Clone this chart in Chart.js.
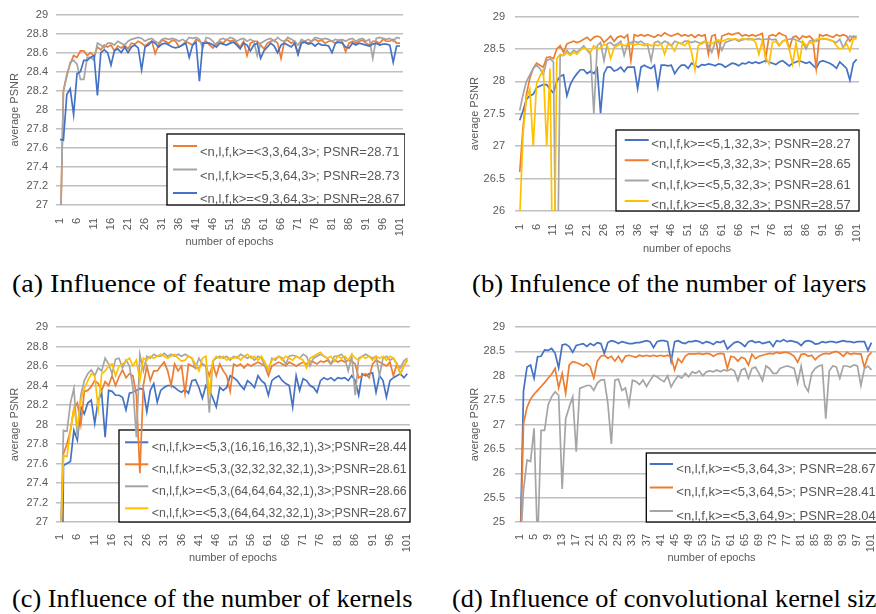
<!DOCTYPE html>
<html>
<head>
<meta charset="utf-8">
<script src="https://cdn.jsdelivr.net/npm/chart.js@4.4.1/dist/chart.umd.min.js"></script>
<style>
  html, body { margin: 0; padding: 0; background: #fff; overflow: hidden; }
  body { width: 876px; height: 614px; position: relative; }
  canvas { position: absolute; }
  .cap { position: absolute; font-family: "Liberation Serif", "DejaVu Serif", serif; font-size: 25px; color: #000; white-space: nowrap; transform-origin: left center; }
</style>
</head>
<body>
<canvas id="cA" width="438" height="260" style="left:0;top:0"></canvas>
<canvas id="cB" width="438" height="260" style="left:438px;top:0"></canvas>
<canvas id="cC" width="438" height="260" style="left:0;top:310px"></canvas>
<canvas id="cD" width="480" height="260" style="left:438px;top:310px"></canvas>
<div class="cap" id="capA" data-w="383" style="left:12px;top:270px">(a) Influence of feature map depth</div>
<div class="cap" id="capB" data-w="394" style="left:472px;top:270px">(b) Infulence of the number of layers</div>
<div class="cap" id="capC" data-w="400" style="left:12px;top:585px">(c) Influence of the number of kernels</div>
<div class="cap" id="capD" style="left:452px;top:585px">(d) Influence of convolutional kernel size</div>
<script>
// epochs on the x axis
const epochs = [
  1, 2, 3, 4, 5, 6, 7, 8, 9, 10, 11, 12, 13, 14, 15, 16, 17, 18, 19, 20,
  21, 22, 23, 24, 25, 26, 27, 28, 29, 30, 31, 32, 33, 34, 35, 36, 37, 38, 39, 40,
  41, 42, 43, 44, 45, 46, 47, 48, 49, 50, 51, 52, 53, 54, 55, 56, 57, 58, 59, 60,
  61, 62, 63, 64, 65, 66, 67, 68, 69, 70, 71, 72, 73, 74, 75, 76, 77, 78, 79, 80,
  81, 82, 83, 84, 85, 86, 87, 88, 89, 90, 91, 92, 93, 94, 95, 96, 97, 98, 99, 100, 101
];
const ticksBy5 = [1, 6, 11, 16, 21, 26, 31, 36, 41, 46, 51, 56, 61, 66, 71, 76, 81, 86, 91, 96, 101];
const ticksBy4 = [1, 5, 9, 13, 17, 21, 25, 29, 33, 37, 41, 45, 49, 53, 57, 61, 65, 69, 73, 77, 81, 85, 89, 93, 97, 101];

// (a) feature map depth
const depthLabels = [
  "<n,l,f,k>=<3,3,64,3>; PSNR=28.71",
  "<n,l,f,k>=<5,3,64,3>; PSNR=28.73",
  "<n,l,f,k>=<9,3,64,3>; PSNR=28.67"
];
const depthN3 = [
  26.5, 28.20, 28.37, 28.48, 28.57, 28.55, 28.62, 28.62, 28.57, 28.60,
  28.56, 28.66, 28.63, 28.68, 28.66, 28.68, 28.62, 28.67, 28.65, 28.68,
  28.64, 28.70, 28.69, 28.72, 28.70, 28.67, 28.70, 28.72, 28.59, 28.68,
  28.73, 28.72, 28.70, 28.73, 28.72, 28.66, 28.68, 28.72, 28.70, 28.68,
  28.74, 28.72, 28.70, 28.72, 28.68, 28.65, 28.70, 28.72, 28.70, 28.74,
  28.72, 28.73, 28.70, 28.66, 28.72, 28.57, 28.70, 28.72, 28.72, 28.68,
  28.64, 28.70, 28.72, 28.73, 28.70, 28.54, 28.72, 28.73, 28.70, 28.72,
  28.59, 28.72, 28.72, 28.70, 28.72, 28.74, 28.72, 28.73, 28.70, 28.72,
  28.72, 28.70, 28.73, 28.72, 28.61, 28.70, 28.72, 28.70, 28.72, 28.73,
  28.70, 28.68, 28.72, 28.72, 28.70, 28.74, 28.72, 28.72, 28.74, 28.70, 28.70
];
const depthN5 = [
  26.5, 28.20, 28.35, 28.50, 28.52, 28.48, 28.32, 28.32, 28.55, 28.55,
  28.52, 28.70, 28.68, 28.65, 28.70, 28.70, 28.68, 28.72, 28.70, 28.68,
  28.72, 28.74, 28.75, 28.76, 28.75, 28.72, 28.74, 28.75, 28.72, 28.70,
  28.74, 28.75, 28.74, 28.75, 28.74, 28.72, 28.74, 28.72, 28.76, 28.75,
  28.76, 28.74, 28.65, 28.76, 28.75, 28.72, 28.66, 28.74, 28.75, 28.73,
  28.76, 28.75, 28.72, 28.74, 28.75, 28.72, 28.74, 28.72, 28.57, 28.70,
  28.72, 28.74, 28.75, 28.72, 28.76, 28.73, 28.72, 28.76, 28.74, 28.72,
  28.68, 28.74, 28.72, 28.74, 28.72, 28.76, 28.75, 28.74, 28.75, 28.74,
  28.72, 28.74, 28.73, 28.74, 28.72, 28.74, 28.75, 28.72, 28.74, 28.75,
  28.72, 28.74, 28.54, 28.75, 28.76, 28.75, 28.74, 28.75, 28.72, 28.76, 28.75
];
const depthN9 = [
  27.69, 27.68, 28.16, 28.22, 27.95, 28.38, 28.40, 28.52, 28.52, 28.55,
  28.57, 28.15, 28.60, 28.63, 28.60, 28.47, 28.62, 28.64, 28.60, 28.66,
  28.60, 28.66, 28.68, 28.65, 28.42, 28.66, 28.68, 28.72, 28.70, 28.66,
  28.69, 28.70, 28.68, 28.66, 28.65, 28.66, 28.68, 28.70, 28.55, 28.68,
  28.71, 28.30, 28.70, 28.70, 28.70, 28.68, 28.66, 28.70, 28.69, 28.68,
  28.70, 28.71, 28.68, 28.64, 28.70, 28.68, 28.62, 28.68, 28.70, 28.54,
  28.62, 28.66, 28.70, 28.67, 28.60, 28.68, 28.70, 28.68, 28.66, 28.70,
  28.58, 28.70, 28.71, 28.69, 28.70, 28.67, 28.70, 28.68, 28.68, 28.67,
  28.60, 28.70, 28.71, 28.70, 28.66, 28.65, 28.70, 28.68, 28.70, 28.69,
  28.68, 28.67, 28.69, 28.70, 28.68, 28.69, 28.69, 28.68, 28.50, 28.67, 28.67
];

// (b) number of layers
const layerLabels = [
  "<n,l,f,k>=<5,1,32,3>; PSNR=28.27",
  "<n,l,f,k>=<5,3,32,3>; PSNR=28.65",
  "<n,l,f,k>=<5,5,32,3>; PSNR=28.61",
  "<n,l,f,k>=<5,8,32,3>; PSNR=28.57"
];
const layersL1 = [
  27.40, 27.55, 27.72, 27.78, 27.80, 27.90, 27.93, 27.95, 27.95, 27.88,
  27.82, 28.00, 28.08, 28.10, 27.78, 27.95, 28.05, 28.12, 28.18, 28.18,
  28.12, 28.16, 28.12, 28.20, 27.51, 28.12, 28.22, 28.22, 28.16, 28.18,
  28.22, 28.15, 28.22, 28.22, 28.22, 27.89, 28.22, 28.25, 28.22, 28.20,
  28.25, 27.91, 28.25, 28.25, 28.24, 28.25, 28.12, 28.20, 28.25, 28.25,
  28.20, 28.28, 28.25, 28.22, 28.26, 28.25, 28.27, 28.26, 28.24, 28.27,
  28.26, 28.22, 28.25, 28.28, 28.27, 28.24, 28.28, 28.27, 28.30, 28.28,
  28.30, 28.28, 28.30, 28.32, 28.30, 28.28, 28.26, 28.30, 28.32, 28.28,
  28.24, 28.28, 28.30, 28.32, 28.30, 28.28, 28.30, 28.25, 28.20, 28.30,
  28.32, 28.30, 28.28, 28.25, 28.20, 28.30, 28.25, 28.20, 28.02, 28.28, 28.34
];
const layersL3 = [
  26.60, 27.30, 27.80, 28.05, 28.20, 28.28, 28.25, 28.22, 28.37, 28.38,
  28.35, 28.50, 28.55, 28.45, 28.58, 28.60, 28.62, 28.60, 28.62, 28.65,
  28.68, 28.63, 28.68, 28.70, 28.68, 28.60, 28.65, 28.70, 28.62, 28.68,
  28.70, 28.67, 28.72, 28.32, 28.72, 28.70, 28.72, 28.70, 28.72, 28.70,
  28.68, 28.72, 28.70, 28.75, 28.72, 28.70, 28.72, 28.74, 28.70, 28.72,
  28.70, 28.72, 28.68, 28.72, 28.70, 28.72, 28.42, 28.70, 28.72, 28.40,
  28.70, 28.72, 28.74, 28.72, 28.74, 28.75, 28.70, 28.72, 28.70, 28.72,
  28.70, 28.72, 28.74, 28.35, 28.70, 28.72, 28.70, 28.75, 28.72, 28.70,
  28.50, 28.68, 28.70, 28.65, 28.70, 28.68, 28.70, 28.65, 28.20, 28.72,
  28.70, 28.72, 28.70, 28.68, 28.72, 28.70, 28.72, 28.70, 28.62, 28.70, 28.68
];
const layersL5 = [
  27.55, 27.80, 28.00, 28.10, 28.20, 28.25, 28.20, 28.10, 28.32, 28.35,
  28.30, 24.00, 28.40, 28.40, 28.48, 28.42, 28.48, 28.45, 28.50, 28.55,
  28.48, 28.42, 27.50, 28.55, 28.60, 28.32, 28.58, 28.60, 28.55, 28.58,
  28.62, 28.40, 28.58, 28.60, 28.62, 28.60, 28.62, 28.58, 28.55, 28.32,
  28.60, 28.62, 28.58, 28.62, 28.60, 28.55, 28.62, 28.60, 28.58, 28.62,
  28.62, 28.60, 28.62, 28.60, 28.58, 28.62, 28.55, 28.45, 28.60, 28.62,
  28.48, 28.60, 28.62, 28.64, 28.65, 28.62, 28.64, 28.65, 28.66, 28.64,
  28.65, 28.66, 28.64, 28.65, 28.66, 28.64, 28.65, 28.55, 28.62, 28.64,
  28.65, 28.66, 28.64, 28.62, 28.60, 28.50, 28.62, 28.64, 28.62, 28.65,
  28.66, 28.65, 28.64, 28.62, 28.60, 28.65, 28.52, 28.62, 28.70, 28.68, 28.70
];
const layersL8 = [
  25.90, 27.20, 27.75, 27.88, 27.00, 27.97, 28.08, 28.18, 27.00, 28.20,
  24.00, 28.35, 28.42, 28.40, 28.44, 28.40, 28.45, 28.42, 28.48, 28.52,
  28.50, 28.45, 28.55, 28.50, 28.52, 28.57, 28.55, 28.35, 28.52, 28.55,
  28.58, 28.55, 28.57, 28.58, 28.56, 28.58, 28.57, 28.55, 28.58, 28.55,
  28.57, 28.55, 28.58, 28.42, 28.58, 28.55, 28.47, 28.60, 28.58, 28.55,
  28.62, 28.45, 28.18, 28.55, 28.60, 28.62, 28.60, 28.58, 28.62, 28.64,
  28.62, 28.64, 28.66, 28.65, 28.66, 28.64, 28.66, 28.65, 28.64, 28.66,
  28.60, 28.42, 28.62, 28.37, 28.27, 28.60, 28.62, 28.55, 28.62, 28.64,
  28.50, 28.27, 28.60, 28.28, 28.62, 28.55, 28.60, 28.58, 28.65, 28.66,
  28.65, 28.66, 28.64, 28.62, 28.55, 28.50, 28.52, 28.58, 28.47, 28.65, 28.66
];

// (c) number of kernels
const kernelLabels = [
  "<n,l,f,k>=<5,3,(16,16,16,32,1),3>;PSNR=28.44",
  "<n,l,f,k>=<5,3,(32,32,32,32,1),3>;PSNR=28.61",
  "<n,l,f,k>=<5,3,(64,64,64,32,1),3>;PSNR=28.66",
  "<n,l,f,k>=<5,3,(64,64,32,32,1),3>;PSNR=28.67"
];
const kernels16 = [
  24.00, 27.58, 27.60, 27.62, 27.94, 27.84, 28.18, 28.11, 28.22, 28.25,
  28.01, 28.25, 28.32, 27.87, 28.35, 28.34, 28.30, 28.30, 28.28, 28.15,
  28.32, 28.33, 28.35, 28.37, 28.36, 28.13, 28.35, 28.42, 28.23, 28.35,
  28.38, 28.40, 28.40, 28.38, 28.35, 28.33, 28.36, 28.32, 28.45, 28.46,
  28.38, 28.27, 28.40, 28.35, 28.27, 28.18, 28.38, 28.35, 28.38, 28.50,
  28.48, 28.45, 28.40, 28.36, 28.45, 28.42, 28.38, 28.50, 28.45, 28.42,
  28.30, 28.45, 28.48, 28.50, 28.45, 28.42, 28.40, 28.18, 28.50, 28.35,
  28.47, 28.45, 28.40, 28.38, 28.33, 28.45, 28.48, 28.46, 28.48, 28.45,
  28.48, 28.47, 28.48, 28.45, 28.50, 28.45, 28.30, 28.52, 28.50, 28.52,
  28.53, 28.33, 28.50, 28.45, 28.28, 28.45, 28.48, 28.50, 28.52, 28.48, 28.52
];
const kernels32 = [
  26.60, 27.70, 27.80, 27.94, 28.16, 28.22, 28.00, 28.34, 28.35, 28.39,
  28.45, 28.42, 28.35, 28.44, 28.40, 28.50, 28.40, 28.49, 28.56, 28.48,
  28.52, 28.50, 28.30, 27.50, 28.40, 28.60, 28.45, 28.55, 28.55, 28.60,
  28.64, 28.55, 28.40, 28.62, 28.55, 28.60, 28.32, 28.62, 28.60, 28.58,
  28.58, 28.62, 28.60, 28.50, 28.62, 28.50, 28.62, 28.55, 28.50, 28.34,
  28.62, 28.60, 28.62, 28.58, 28.62, 28.60, 28.62, 28.64, 28.62, 28.60,
  28.50, 28.60, 28.62, 28.64, 28.62, 28.60, 28.64, 28.62, 28.60, 28.62,
  28.64, 28.62, 28.65, 28.64, 28.62, 28.65, 28.64, 28.66, 28.62, 28.66,
  28.64, 28.66, 28.64, 28.66, 28.65, 28.62, 28.48, 28.50, 28.52, 28.48,
  28.62, 28.66, 28.64, 28.62, 28.60, 28.64, 28.50, 28.62, 28.52, 28.60, 28.66
];
const kernels64a = [
  26.60, 27.94, 27.93, 28.22, 28.37, 27.87, 28.30, 28.45, 28.52, 28.56,
  28.50, 28.58, 28.55, 28.68, 28.62, 28.52, 28.67, 28.68, 28.58, 28.66,
  28.60, 28.38, 27.87, 28.72, 28.55, 28.70, 28.68, 28.72, 28.70, 28.70,
  28.73, 28.70, 28.72, 28.70, 28.72, 28.70, 28.72, 28.70, 28.68, 28.58,
  28.68, 28.62, 28.60, 28.12, 28.65, 28.68, 28.70, 28.68, 28.70, 28.66,
  28.70, 28.68, 28.72, 28.70, 28.68, 28.70, 28.66, 28.70, 28.68, 28.60,
  28.55, 28.68, 28.66, 28.70, 28.68, 28.62, 28.70, 28.71, 28.70, 28.68,
  28.72, 28.70, 28.60, 28.68, 28.70, 28.72, 28.70, 28.68, 28.62, 28.70,
  28.70, 28.72, 28.68, 28.55, 28.70, 28.30, 28.68, 28.70, 28.72, 28.70,
  28.68, 28.70, 28.50, 28.68, 28.70, 28.66, 28.68, 28.62, 28.58, 28.65, 28.68
];
const kernels64b = [
  26.60, 27.68, 27.67, 27.94, 28.16, 27.98, 28.25, 28.37, 28.45, 28.52,
  28.50, 28.16, 28.52, 28.55, 28.60, 28.62, 28.50, 28.60, 28.62, 28.65,
  28.68, 28.60, 28.66, 28.45, 28.68, 28.66, 28.70, 28.68, 28.70, 28.72,
  28.70, 28.68, 28.70, 28.72, 28.68, 28.65, 28.66, 28.70, 28.68, 28.62,
  28.55, 28.68, 28.70, 28.30, 28.65, 28.70, 28.68, 28.70, 28.66, 28.68,
  28.68, 28.70, 28.66, 28.70, 28.72, 28.68, 28.70, 28.66, 28.70, 28.64,
  28.56, 28.66, 28.68, 28.70, 28.66, 28.70, 28.68, 28.66, 28.70, 28.68,
  28.66, 28.58, 28.68, 28.70, 28.72, 28.74, 28.70, 28.68, 28.70, 28.65,
  28.70, 28.68, 28.70, 28.66, 28.72, 28.68, 28.66, 28.70, 28.68, 28.70,
  28.66, 28.70, 28.68, 28.70, 28.66, 28.70, 28.68, 28.62, 28.52, 28.60, 28.67
];

// (d) convolutional kernel size
const sizeLabels = [
  "<n,l,f,k>=<5,3,64,3>; PSNR=28.67",
  "<n,l,f,k>=<5,3,64,5>; PSNR=28.41",
  "<n,l,f,k>=<5,3,64,9>; PSNR=28.04"
];
const sizeK3 = [
  24.30, 27.69, 28.18, 28.22, 27.95, 28.39, 28.40, 28.53, 28.52, 28.56,
  28.46, 28.16, 28.63, 28.65, 28.60, 28.48, 28.62, 28.64, 28.66, 28.60,
  28.66, 28.62, 28.68, 28.66, 28.46, 28.68, 28.72, 28.70, 28.66, 28.70,
  28.68, 28.66, 28.66, 28.68, 28.68, 28.70, 28.72, 28.70, 28.58, 28.70,
  28.72, 28.72, 28.70, 28.30, 28.70, 28.72, 28.68, 28.66, 28.70, 28.70,
  28.72, 28.70, 28.66, 28.70, 28.68, 28.64, 28.70, 28.68, 28.72, 28.55,
  28.62, 28.68, 28.70, 28.66, 28.60, 28.70, 28.72, 28.68, 28.70, 28.66,
  28.68, 28.70, 28.60, 28.72, 28.70, 28.74, 28.70, 28.72, 28.70, 28.68,
  28.62, 28.70, 28.72, 28.70, 28.65, 28.66, 28.70, 28.68, 28.70, 28.70,
  28.68, 28.70, 28.72, 28.70, 28.70, 28.68, 28.70, 28.70, 28.70, 28.52, 28.68
];
const sizeK5 = [
  24.13, 27.02, 27.35, 27.52, 27.62, 27.70, 27.78, 27.86, 27.95, 28.03,
  28.15, 27.75, 28.05, 27.64, 28.22, 28.29, 28.27, 28.24, 28.20, 28.25,
  28.18, 27.95, 28.30, 28.40, 28.42, 28.36, 28.40, 28.30, 28.40, 28.28,
  28.40, 28.42, 28.40, 28.38, 28.42, 28.40, 28.42, 28.40, 28.42, 28.40,
  28.42, 28.40, 28.42, 28.38, 28.12, 28.35, 28.27, 28.40, 28.45, 28.45,
  28.45, 28.46, 28.44, 28.46, 28.45, 28.40, 28.44, 28.46, 28.45, 28.15,
  28.40, 28.38, 28.30, 28.38, 28.35, 28.22, 28.44, 28.35, 28.40, 28.42,
  28.44, 28.46, 28.45, 28.48, 28.46, 28.48, 28.48, 28.45, 28.40, 28.28,
  28.44, 28.45, 28.40, 28.42, 28.33, 28.40, 28.44, 28.46, 28.45, 28.48,
  28.50, 28.46, 28.40, 28.48, 28.44, 28.46, 28.45, 28.45, 28.17, 28.40, 28.48
];
const sizeK9 = [
  24.35, 25.65, 26.27, 26.24, 26.92, 24.50, 26.88, 26.88, 27.40, 27.57,
  27.67, 27.60, 25.68, 27.12, 27.36, 27.57, 26.44, 27.74, 27.77, 27.80,
  27.80, 27.70, 27.85, 27.91, 27.92, 27.43, 26.60, 27.91, 27.93, 27.70,
  27.75, 27.40, 27.91, 27.88, 27.82, 27.91, 27.78, 27.90, 28.01, 27.98,
  27.92, 27.88, 28.00, 27.77, 27.90, 28.00, 27.95, 28.05, 27.98, 28.08,
  28.05, 28.10, 28.00, 28.08, 28.10, 28.08, 28.12, 28.08, 28.12, 28.10,
  28.14, 28.10, 27.90, 28.12, 28.15, 27.95, 28.15, 28.18, 28.05, 27.90,
  28.20, 28.15, 28.05, 28.05, 28.15, 28.18, 28.20, 28.18, 28.15, 27.85,
  28.20, 27.80, 27.68, 28.05, 28.15, 28.20, 28.22, 27.12, 28.10, 28.20,
  28.18, 27.95, 28.20, 28.20, 28.18, 28.22, 28.20, 27.80, 28.15, 28.20, 28.12
];

const BLUE = "#4472C4", ORANGE = "#ED7D31", GRAY = "#A5A5A5", YELLOW = "#FFC000";
const TEXT = "#595959", GRID = "#C0C0C0";
Chart.defaults.font.family = "'Liberation Sans', Arial, sans-serif";
Chart.defaults.color = TEXT;

// legend box drawn inside the plot, under the lines
const insideLegend = {
  id: "insideLegend",
  beforeDatasetsDraw(chart, args, opts) {
    const ctx = chart.ctx;
    const a = chart.chartArea;
    const b = opts.box;
    ctx.save();
    ctx.beginPath();
    ctx.rect(a.left, a.top, a.right - a.left + 2, a.bottom - a.top + 1);
    ctx.clip();
    ctx.fillStyle = "#fff";
    ctx.fillRect(b.x, b.y, b.w, b.h);
    ctx.save();
    ctx.beginPath();
    ctx.rect(b.x, b.y, b.w, b.h);
    ctx.clip();
    ctx.font = opts.size + "px 'Liberation Sans', Arial, sans-serif";
    ctx.textBaseline = "middle";
    chart.data.datasets.forEach((ds, i) => {
      const y = b.y + opts.first + i * opts.step;
      ctx.strokeStyle = ds.borderColor;
      ctx.lineWidth = 2;
      ctx.beginPath();
      ctx.moveTo(b.x + opts.lineX0, y);
      ctx.lineTo(b.x + opts.lineX1, y);
      ctx.stroke();
      ctx.fillStyle = TEXT;
      ctx.fillText(ds.label, b.x + opts.textX, y + opts.textDy);
    });
    ctx.restore();
    ctx.strokeStyle = "#000";
    ctx.lineWidth = 1.3;
    ctx.strokeRect(b.x, b.y, b.w, b.h);
    ctx.restore();
  }
};

function makeChart(id, c) {
  const canvas = document.getElementById(id);
  const W = canvas.width, H = canvas.height;
  const n = c.series.length;
  return new Chart(canvas, {
    type: "line",
    data: {
      datasets: c.series.map((s, i) => ({
        label: c.labels[i],
        data: s.map((v, k) => ({ x: epochs[k], y: v })),
        borderColor: c.colors[i],
        backgroundColor: c.colors[i],
        borderWidth: 1.7,
        pointRadius: 0,
        tension: 0,
        order: n - i,
      })),
    },
    options: {
      responsive: false,
      animation: false,
      events: [],
      layout: { padding: { left: 0, top: c.area.top, right: W - c.area.right, bottom: 0 } },
      plugins: {
        legend: { display: false },
        tooltip: { enabled: false },
        insideLegend: c.legend,
      },
      scales: {
        x: {
          type: "linear",
          min: c.xMin,
          max: c.xMax,
          afterBuildTicks: (s) => { s.ticks = c.ticks.map((v) => ({ value: v })); },
          afterFit: (s) => { s.height = H - c.area.bottom; },
          ticks: { autoSkip: false, minRotation: 90, maxRotation: 90, padding: c.xPad, font: { size: 11 } },
          grid: { display: false },
          border: { display: false },
          title: { display: true, text: "number of epochs", font: { size: 11 }, padding: { top: 2, bottom: c.xTitlePad } },
        },
        y: {
          min: c.yMin,
          max: c.yMax,
          afterFit: (s) => { s.width = c.area.left; },
          ticks: { stepSize: c.yStep, padding: c.yPad, font: { size: 11 }, callback: (v) => String(+v.toFixed(1)) },
          grid: { color: GRID, lineWidth: 1.5, drawTicks: false },
          border: { display: false },
          title: { display: true, text: "average PSNR", font: { size: 11 }, padding: { top: c.yTitlePad, bottom: 0 } },
        },
      },
    },
    plugins: [insideLegend],
  });
}

makeChart("cA", {
  series: [depthN3, depthN5, depthN9], labels: depthLabels, colors: [ORANGE, GRAY, BLUE],
  yMin: 27, yMax: 29, yStep: 0.2, xMin: -0.18, xMax: 101.88, ticks: ticksBy5,
  area: { left: 56, right: 403, top: 10, bottom: 205 }, yPad: 8, yTitlePad: 8, xPad: 5, xTitlePad: 11,
  legend: { box: { x: 167, y: 134, w: 238, h: 71 }, first: 12, step: 23.5, lineX0: 6, lineX1: 30, textX: 33, textDy: 6.5, size: 13 },
});
makeChart("cB", {
  series: [layersL1, layersL3, layersL5, layersL8], labels: layerLabels, colors: [BLUE, ORANGE, GRAY, YELLOW],
  yMin: 26, yMax: 29, yStep: 0.5, xMin: -0.4, xMax: 101.7, ticks: ticksBy5,
  area: { left: 77, right: 421, top: 10, bottom: 211 }, yPad: 10, yTitlePad: 30, xPad: 5, xTitlePad: 4,
  legend: { box: { x: 178, y: 130, w: 243, h: 81 }, first: 10, step: 20.3, lineX0: 8.7, lineX1: 32.7, textX: 35.3, textDy: 4.5, size: 13 },
});
makeChart("cC", {
  series: [kernels16, kernels32, kernels64a, kernels64b], labels: kernelLabels, colors: [BLUE, ORANGE, GRAY, YELLOW],
  yMin: 27, yMax: 29, yStep: 0.2, xMin: -0.15, xMax: 101.78, ticks: ticksBy5,
  area: { left: 56, right: 410, top: 17, bottom: 212 }, yPad: 8, yTitlePad: 8, xPad: 4, xTitlePad: 5,
  legend: { box: { x: 119, y: 120, w: 291, h: 92 }, first: 12.3, step: 22, lineX0: 6, lineX1: 29.3, textX: 32.7, textDy: 5, size: 12.3 },
});
makeChart("cD", {
  series: [sizeK3, sizeK5, sizeK9], labels: sizeLabels, colors: [BLUE, ORANGE, GRAY],
  yMin: 25, yMax: 29, yStep: 0.5, xMin: -0.42, xMax: 111.4, ticks: ticksBy4,
  area: { left: 77, right: 470, top: 17, bottom: 212 }, yPad: 10, yTitlePad: 30, xPad: 4, xTitlePad: 5,
  legend: { box: { x: 208.3, y: 143, w: 300, h: 69 }, first: 11, step: 23.5, lineX0: 3.4, lineX1: 26.7, textX: 30, textDy: 5.3, size: 13 },
});

// stretch the serif captions to the width they take in the figure
let capScale = 1;
["capA", "capB", "capC"].forEach((id) => {
  const el = document.getElementById(id);
  capScale = +el.dataset.w / el.offsetWidth;
  el.style.transform = "scaleX(" + capScale + ")";
});
document.getElementById("capD").style.transform = "scaleX(" + capScale + ")";
</script>
</body>
</html>
